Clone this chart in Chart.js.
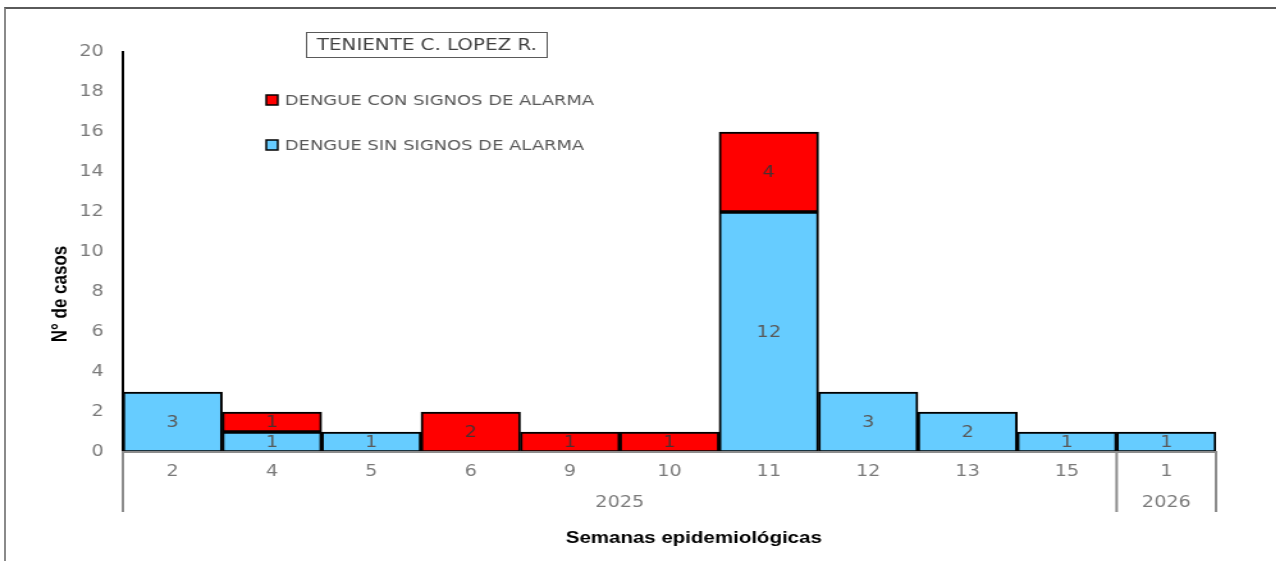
<!DOCTYPE html>
<html>
<head>
<meta charset="utf-8">
<script src="https://cdn.jsdelivr.net/npm/chart.js@4.4.1/dist/chart.umd.min.js"></script>
<style>
html, body { margin: 0; padding: 0; background: #fff; overflow: hidden; }
#frame { position: absolute; left: 4px; top: 7px; width: 1300px; height: 600px;
         border-top: 2px solid #5a5a5a; border-left: 2px solid #8a8a8a; }
#wrap { position: absolute; left: 0; top: 0; width: 997px; height: 561px;
        transform: scaleX(1.28); transform-origin: 0 0; }
</style>
</head>
<body>
<div id="frame"></div>
<div id="wrap"><canvas id="chart"></canvas></div>
<script>
// semanas epidemiologicas y datos
var semanas = ['2', '4', '5', '6', '9', '10', '11', '12', '13', '15', '1'];
var anios = ['2025', '2026'];
var semanasPorAnio = [10, 1];
var sinSignos = [3, 1, 1, 0, 0, 0, 12, 3, 2, 1, 1];
var conSignos = [0, 1, 0, 2, 1, 1, 4, 0, 0, 0, 0];
var yTicks = [0, 2, 4, 6, 8, 10, 12, 14, 16, 18, 20];

var azul = '#66ccff';
var rojo = '#ff0000';
var gris = '#7a7a7a';
var font = '"DejaVu Sans", Verdana, sans-serif';

function sinCero(arr) {
    return arr.map(function(v) { return v === 0 ? null : v; });
}

var extras = {
    id: 'extras',
    afterDraw: function(chart) {
        var ctx = chart.ctx;
        var x = chart.scales.x;
        var area = chart.chartArea;
        ctx.save();

        // etiquetas dentro de las barras
        ctx.font = '15px ' + font;
        ctx.textAlign = 'center';
        ctx.textBaseline = 'middle';
        chart.data.datasets.forEach(function(ds, i) {
            var meta = chart.getDatasetMeta(i);
            meta.data.forEach(function(bar, j) {
                var v = ds.data[j];
                if (!v) return;
                ctx.fillStyle = i === 0 ? '#595959' : '#4a3030';
                ctx.fillText(String(v), bar.x, (bar.y + bar.base) / 2 + 1);
            });
        });

        // separadores de anio y etiquetas
        var half = (x.getPixelForValue(1) - x.getPixelForValue(0)) / 2;
        ctx.strokeStyle = '#8c8c8c';
        ctx.lineWidth = 2;
        var start = 0;
        var edges = [x.getPixelForValue(0) - half];
        semanasPorAnio.forEach(function(n, k) {
            var l = x.getPixelForValue(start) - half;
            var r = x.getPixelForValue(start + n - 1) + half;
            edges.push(r);
            ctx.fillStyle = gris;
            ctx.font = '15px ' + font;
            ctx.fillText(anios[k], (l + r) / 2, 503);
            start += n;
        });
        edges.forEach(function(e) {
            ctx.beginPath();
            ctx.moveTo(e, area.bottom);
            ctx.lineTo(e, 512);
            ctx.stroke();
        });

        // titulos de ejes
        ctx.fillStyle = '#000';
        ctx.font = 'bold 16px "Liberation Sans", Arial, sans-serif';
        ctx.fillText('Semanas epidemiológicas', 542, 539);
        ctx.save();
        ctx.translate(47, 294);
        ctx.rotate(-Math.PI / 2);
        ctx.font = 'bold 17px "Liberation Sans", Arial, sans-serif';
        ctx.fillText('N° de casos', 0, 0);
        ctx.restore();

        // cuadro de titulo
        ctx.strokeStyle = '#5a5a5a';
        ctx.lineWidth = 1;
        ctx.strokeRect(239.5, 32.5, 188, 25);
        ctx.fillStyle = '#404040';
        ctx.font = '15.5px ' + font;
        ctx.fillText('TENIENTE C. LOPEZ R.', 333.5, 45.5);

        // leyenda
        var items = [[rojo, 'DENGUE CON SIGNOS DE ALARMA', 100], [azul, 'DENGUE SIN SIGNOS DE ALARMA', 145]];
        ctx.textAlign = 'left';
        ctx.font = '14px ' + font;
        items.forEach(function(it) {
            ctx.fillStyle = it[0];
            ctx.fillRect(208, it[2] - 5, 9, 10);
            ctx.strokeStyle = '#000';
            ctx.lineWidth = 1.5;
            ctx.strokeRect(208, it[2] - 5, 9, 10);
            ctx.fillStyle = '#595959';
            ctx.fillText(it[1], 222.5, it[2] + 1);
        });
        ctx.restore();
    }
};

new Chart(document.getElementById('chart'), {
    type: 'bar',
    data: {
        labels: semanas,
        datasets: [{
            label: 'DENGUE SIN SIGNOS DE ALARMA',
            data: sinCero(sinSignos),
            backgroundColor: azul,
            borderColor: '#000',
            borderWidth: 2,
            borderSkipped: false
        }, {
            label: 'DENGUE CON SIGNOS DE ALARMA',
            data: sinCero(conSignos),
            backgroundColor: rojo,
            borderColor: '#000',
            borderWidth: 2,
            borderSkipped: false
        }]
    },
    options: {
        responsive: true,
        maintainAspectRatio: false,
        animation: false,
        devicePixelRatio: 1,
        layout: { padding: { top: 52, right: 47, left: 0, bottom: 0 } },
        datasets: { bar: { barPercentage: 1, categoryPercentage: 1 } },
        plugins: { legend: { display: false }, tooltip: { enabled: false } },
        scales: {
            x: {
                stacked: true,
                grid: { display: false, drawTicks: false },
                border: { display: true, color: '#8c8c8c', width: 2, z: 1 },
                ticks: { color: gris, font: { family: font, size: 15 }, padding: 11, maxRotation: 0, autoSkip: false },
                afterFit: function(s) { s.height = 109; }
            },
            y: {
                stacked: true,
                min: 0,
                max: 20,
                grid: { display: false, drawTicks: false },
                border: { display: true, color: '#000', width: 2 },
                afterBuildTicks: function(s) { s.ticks = yTicks.map(function(v) { return { value: v }; }); },
                ticks: { color: gris, font: { family: font, size: 15 }, padding: 15 },
                afterFit: function(s) { s.width = 96; }
            }
        }
    },
    plugins: [extras]
});
</script>
</body>
</html>
